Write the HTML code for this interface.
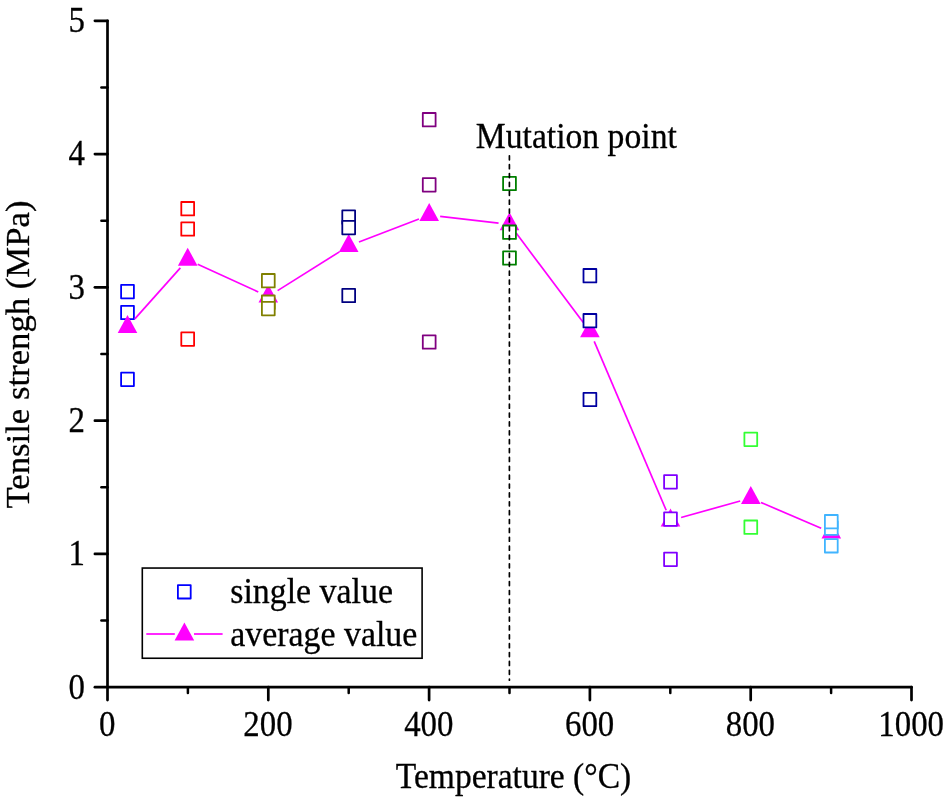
<!DOCTYPE html>
<html><head><meta charset="utf-8"><title>Tensile strength vs temperature</title>
<style>html,body{margin:0;padding:0;background:#fff;}svg{display:block;will-change:transform;}text{font-family:"Liberation Serif",serif;fill:#000;stroke:#000;stroke-width:0.3px;}</style></head><body>
<svg width="944" height="799" viewBox="0 0 944 799">
<rect width="944" height="799" fill="#fff"/>
<g stroke="#000" stroke-width="2.7" stroke-linecap="round" fill="none">
<line x1="107.5" y1="20.80" x2="107.5" y2="700.10"/>
<line x1="94.90" y1="687.2" x2="911.50" y2="687.2"/>
<line x1="94.90" y1="553.92" x2="107.5" y2="553.92"/>
<line x1="94.90" y1="420.64" x2="107.5" y2="420.64"/>
<line x1="94.90" y1="287.36" x2="107.5" y2="287.36"/>
<line x1="94.90" y1="154.08" x2="107.5" y2="154.08"/>
<line x1="94.90" y1="20.80" x2="107.5" y2="20.80"/>
<line x1="268.30" y1="687.2" x2="268.30" y2="700.10"/>
<line x1="429.10" y1="687.2" x2="429.10" y2="700.10"/>
<line x1="589.90" y1="687.2" x2="589.90" y2="700.10"/>
<line x1="750.70" y1="687.2" x2="750.70" y2="700.10"/>
<line x1="911.50" y1="687.2" x2="911.50" y2="700.10"/>
</g>
<g stroke="#000" stroke-width="2.5" stroke-linecap="round" fill="none">
<line x1="101.40" y1="620.56" x2="107.5" y2="620.56"/>
<line x1="101.40" y1="487.28" x2="107.5" y2="487.28"/>
<line x1="101.40" y1="354.00" x2="107.5" y2="354.00"/>
<line x1="101.40" y1="220.72" x2="107.5" y2="220.72"/>
<line x1="101.40" y1="87.44" x2="107.5" y2="87.44"/>
<line x1="187.90" y1="687.2" x2="187.90" y2="693.10"/>
<line x1="348.70" y1="687.2" x2="348.70" y2="693.10"/>
<line x1="509.50" y1="687.2" x2="509.50" y2="693.10"/>
<line x1="670.30" y1="687.2" x2="670.30" y2="693.10"/>
<line x1="831.10" y1="687.2" x2="831.10" y2="693.10"/>
</g>
<text transform="translate(76.70,698.60) scale(0.9,1)" font-size="36.5" text-anchor="middle">0</text>
<text transform="translate(76.70,565.32) scale(0.9,1)" font-size="36.5" text-anchor="middle">1</text>
<text transform="translate(76.70,432.04) scale(0.9,1)" font-size="36.5" text-anchor="middle">2</text>
<text transform="translate(76.70,298.76) scale(0.9,1)" font-size="36.5" text-anchor="middle">3</text>
<text transform="translate(76.70,165.48) scale(0.9,1)" font-size="36.5" text-anchor="middle">4</text>
<text transform="translate(76.70,32.20) scale(0.9,1)" font-size="36.5" text-anchor="middle">5</text>
<text transform="translate(107.20,736.30) scale(0.9,1)" font-size="36.5" text-anchor="middle">0</text>
<text transform="translate(268.00,736.30) scale(0.9,1)" font-size="36.5" text-anchor="middle">200</text>
<text transform="translate(428.80,736.30) scale(0.9,1)" font-size="36.5" text-anchor="middle">400</text>
<text transform="translate(589.60,736.30) scale(0.9,1)" font-size="36.5" text-anchor="middle">600</text>
<text transform="translate(750.40,736.30) scale(0.9,1)" font-size="36.5" text-anchor="middle">800</text>
<text transform="translate(911.20,736.30) scale(0.9,1)" font-size="36.5" text-anchor="middle">1000</text>
<text transform="translate(513.50,788.20) scale(0.958,1)" font-size="35" text-anchor="middle">Temperature (°C)</text>
<text transform="translate(29.00,354.50) rotate(-90) scale(1.034,1)" font-size="33.6" text-anchor="middle">Tensile strengh (MPa)</text>
<text transform="translate(475.80,148.00) scale(0.962,1)" font-size="35" text-anchor="start">Mutation point</text>
<rect x="121.10" y="284.90" width="12.8" height="13.4" fill="#fff" stroke="#0000ff" stroke-width="1.8" stroke-linejoin="round"/>
<rect x="121.10" y="305.80" width="12.8" height="13.4" fill="#fff" stroke="#0000ff" stroke-width="1.8" stroke-linejoin="round"/>
<rect x="121.10" y="372.70" width="12.8" height="13.4" fill="#fff" stroke="#0000ff" stroke-width="1.8" stroke-linejoin="round"/>
<g stroke="#ff00ff" stroke-width="1.7" stroke-linecap="butt">
<line x1="134.83" y1="318.90" x2="180.37" y2="267.90"/>
<line x1="197.71" y1="264.27" x2="258.29" y2="291.93"/>
<line x1="277.61" y1="290.65" x2="339.39" y2="251.85"/>
<line x1="358.97" y1="242.06" x2="418.93" y2="219.04"/>
<line x1="440.13" y1="216.35" x2="498.57" y2="223.05"/>
<line x1="516.11" y1="233.09" x2="583.29" y2="322.41"/>
<line x1="594.21" y1="341.32" x2="666.19" y2="510.28"/>
<line x1="681.10" y1="517.46" x2="740.20" y2="501.04"/>
<line x1="760.91" y1="502.43" x2="821.19" y2="528.27"/>
</g>
<polygon points="127.50,315.10 137.30,333.10 117.70,333.10" fill="#ff00ff"/>
<polygon points="187.70,247.70 197.50,265.70 177.90,265.70" fill="#ff00ff"/>
<polygon points="268.30,284.50 278.10,302.50 258.50,302.50" fill="#ff00ff"/>
<polygon points="348.70,234.00 358.50,252.00 338.90,252.00" fill="#ff00ff"/>
<polygon points="429.20,203.10 439.00,221.10 419.40,221.10" fill="#ff00ff"/>
<polygon points="509.50,212.30 519.30,230.30 499.70,230.30" fill="#ff00ff"/>
<polygon points="589.90,319.20 599.70,337.20 580.10,337.20" fill="#ff00ff"/>
<polygon points="670.50,508.40 680.30,526.40 660.70,526.40" fill="#ff00ff"/>
<polygon points="750.80,486.10 760.60,504.10 741.00,504.10" fill="#ff00ff"/>
<polygon points="831.30,520.60 841.10,538.60 821.50,538.60" fill="#ff00ff"/>
<rect x="181.30" y="202.00" width="12.8" height="13.4" fill="#fff" stroke="#ff0000" stroke-width="1.8" stroke-linejoin="round"/>
<rect x="181.30" y="222.30" width="12.8" height="13.4" fill="#fff" stroke="#ff0000" stroke-width="1.8" stroke-linejoin="round"/>
<rect x="181.30" y="332.40" width="12.8" height="13.4" fill="#fff" stroke="#ff0000" stroke-width="1.8" stroke-linejoin="round"/>
<rect x="261.90" y="274.00" width="12.8" height="13.4" fill="#fff" stroke="#808000" stroke-width="1.8" stroke-linejoin="round"/>
<rect x="261.90" y="295.50" width="12.8" height="13.4" fill="#fff" stroke="#808000" stroke-width="1.8" stroke-linejoin="round"/>
<rect x="261.90" y="301.90" width="12.8" height="13.4" fill="#fff" stroke="#808000" stroke-width="1.8" stroke-linejoin="round"/>
<rect x="342.30" y="210.40" width="12.8" height="13.4" fill="#fff" stroke="#000080" stroke-width="1.8" stroke-linejoin="round"/>
<rect x="342.30" y="220.90" width="12.8" height="13.4" fill="#fff" stroke="#000080" stroke-width="1.8" stroke-linejoin="round"/>
<rect x="342.30" y="288.80" width="12.8" height="13.4" fill="#fff" stroke="#000080" stroke-width="1.8" stroke-linejoin="round"/>
<rect x="422.80" y="113.00" width="12.8" height="13.4" fill="#fff" stroke="#800080" stroke-width="1.8" stroke-linejoin="round"/>
<rect x="422.80" y="178.20" width="12.8" height="13.4" fill="#fff" stroke="#800080" stroke-width="1.8" stroke-linejoin="round"/>
<rect x="422.80" y="335.30" width="12.8" height="13.4" fill="#fff" stroke="#800080" stroke-width="1.8" stroke-linejoin="round"/>
<rect x="503.10" y="176.80" width="12.8" height="13.4" fill="#fff" stroke="#008000" stroke-width="1.8" stroke-linejoin="round"/>
<rect x="503.10" y="225.50" width="12.8" height="13.4" fill="#fff" stroke="#008000" stroke-width="1.8" stroke-linejoin="round"/>
<rect x="503.10" y="251.30" width="12.8" height="13.4" fill="#fff" stroke="#008000" stroke-width="1.8" stroke-linejoin="round"/>
<rect x="583.50" y="269.00" width="12.8" height="13.4" fill="#fff" stroke="#0000a0" stroke-width="1.8" stroke-linejoin="round"/>
<rect x="583.50" y="314.00" width="12.8" height="13.4" fill="#fff" stroke="#0000a0" stroke-width="1.8" stroke-linejoin="round"/>
<rect x="583.50" y="392.80" width="12.8" height="13.4" fill="#fff" stroke="#0000a0" stroke-width="1.8" stroke-linejoin="round"/>
<rect x="664.10" y="475.20" width="12.8" height="13.4" fill="#fff" stroke="#8000ff" stroke-width="1.8" stroke-linejoin="round"/>
<rect x="664.10" y="512.40" width="12.8" height="13.4" fill="#fff" stroke="#8000ff" stroke-width="1.8" stroke-linejoin="round"/>
<rect x="664.10" y="552.70" width="12.8" height="13.4" fill="#fff" stroke="#8000ff" stroke-width="1.8" stroke-linejoin="round"/>
<rect x="744.40" y="432.70" width="12.8" height="13.4" fill="#fff" stroke="#33ff33" stroke-width="1.8" stroke-linejoin="round"/>
<rect x="744.40" y="520.50" width="12.8" height="13.4" fill="#fff" stroke="#33ff33" stroke-width="1.8" stroke-linejoin="round"/>
<rect x="824.90" y="521.50" width="12.8" height="13.4" fill="#fff" stroke="#40b4ff" stroke-width="1.8" stroke-linejoin="round"/>
<rect x="824.90" y="515.00" width="12.8" height="13.4" fill="#fff" stroke="#40b4ff" stroke-width="1.8" stroke-linejoin="round"/>
<rect x="824.90" y="539.10" width="12.8" height="13.4" fill="#fff" stroke="#40b4ff" stroke-width="1.8" stroke-linejoin="round"/>
<line x1="509.4" y1="155.85" x2="509.4" y2="680.2" stroke="#000" stroke-width="1.7" stroke-linecap="round" stroke-dasharray="4 4.87"/>
<rect x="142.3" y="568.05" width="279.8" height="90.2" fill="#fff" stroke="#000" stroke-width="1.6"/>
<rect x="177.90" y="585.10" width="12.8" height="13.4" fill="#fff" stroke="#0000ff" stroke-width="1.8" stroke-linejoin="round"/>
<g stroke="#ff00ff" stroke-width="1.7"><line x1="146.3" y1="634" x2="174.8" y2="634"/><line x1="194" y1="634" x2="222.6" y2="634"/></g>
<polygon points="184.40,622.40 194.20,640.40 174.60,640.40" fill="#ff00ff"/>
<text transform="translate(230.20,602.60) scale(0.968,1)" font-size="35" text-anchor="start">single value</text>
<text transform="translate(230.20,646.00) scale(0.968,1)" font-size="35" text-anchor="start">average value</text>
</svg></body></html>
